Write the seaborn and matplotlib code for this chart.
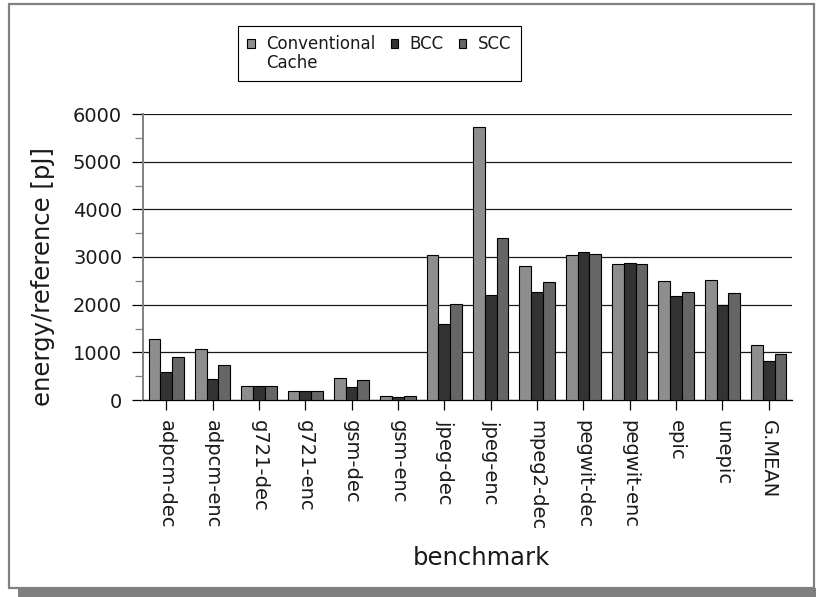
import matplotlib
matplotlib.use("Agg")
import matplotlib.pyplot as plt
import numpy as np
import pandas as pd
import seaborn as sns
from matplotlib.patches import Patch, Rectangle
from matplotlib.ticker import MultipleLocator

# Benchmarks and per-cache energy values [pJ]
benchmarks = ["adpcm-dec", "adpcm-enc", "g721-dec", "g721-enc", "gsm-dec",
              "gsm-enc", "jpeg-dec", "jpeg-enc", "mpeg2-dec", "pegwit-dec",
              "pegwit-enc", "epic", "unepic", "G.MEAN"]
conventional = [1280, 1070, 300, 196, 455, 77, 3035, 5727, 2811, 3049, 2846, 2490, 2524, 1147]
bcc = [580, 434, 300, 196, 273, 63, 1594, 2196, 2259, 3098, 2881, 2182, 1993, 811]
scc = [902, 727, 300, 196, 413, 77, 2014, 3392, 2483, 3070, 2853, 2259, 2245, 972]
series_names = ["Conventional Cache", "BCC", "SCC"]
colors = ["#8e8e8e", "#333333", "#666666"]

df = pd.DataFrame({
    "benchmark": benchmarks * 3,
    "energy": conventional + bcc + scc,
    "cache": [n for n in series_names for _ in benchmarks],
})

sns.set_style("white")
plt.rcParams["font.family"] = ["DejaVu Sans"]

W, H = 816, 597
fig = plt.figure(figsize=(W / 100, H / 100), dpi=100)

# outer frame with a drop shadow along the bottom
fig.patches.append(Rectangle((18 / W, 0), 1 - 18 / W, 9 / H, transform=fig.transFigure,
                             facecolor="#808080", edgecolor="none", zorder=0))
fig.patches.append(Rectangle((9 / W, 1 - 588 / H), (814 - 9) / W, (588 - 4) / H,
                             transform=fig.transFigure, facecolor="none",
                             edgecolor="#808080", linewidth=1.6, zorder=1))

ax_l, ax_r, ax_t, ax_b = 143, 792, 114, 400
ax = fig.add_axes([ax_l / W, 1 - ax_b / H, (ax_r - ax_l) / W, (ax_b - ax_t) / H])
ax.set_facecolor("none")

sns.barplot(data=df, x="benchmark", y="energy", hue="cache", hue_order=series_names,
            palette=colors, saturation=1, width=0.76, edgecolor="black",
            linewidth=0.8, errorbar=None, legend=False, ax=ax, zorder=3)

ax.set_ylim(0, 6000)
ax.set_xlim(-0.5, len(benchmarks) - 0.5)
ax.yaxis.set_major_locator(MultipleLocator(1000))
ax.yaxis.set_minor_locator(MultipleLocator(500))
ax.grid(axis="y", which="major", color="#1a1a1a", linewidth=0.9, zorder=0)
ax.set_axisbelow(True)

for s in ("top", "right"):
    ax.spines[s].set_visible(False)
ax.spines["left"].set_color("#808080")
ax.spines["left"].set_linewidth(1.4)
ax.spines["bottom"].set_color("black")
ax.spines["bottom"].set_linewidth(0.9)

ax.tick_params(axis="y", which="major", direction="out", length=8, width=0.9,
               color="black", pad=7, labelsize=14, labelcolor="#1a1a1a", left=True)
ax.tick_params(axis="y", which="minor", direction="out", length=5.8, width=0.9,
               color="#808080", left=True)
ax.tick_params(axis="x", which="major", direction="out", length=7.2, width=0.9,
               color="black", pad=7, labelsize=14, labelcolor="#1a1a1a", bottom=True)
ax.set_xticks(range(len(benchmarks)))
ax.set_xticklabels(benchmarks, rotation=270, ha="center", va="top")

ax.set_ylabel("energy/reference [pJ]", fontsize=17.5, color="#1a1a1a")
ax.yaxis.set_label_coords((55 - ax_l) / (ax_r - ax_l), (ax_b - 277) / (ax_b - ax_t))
ax.set_xlabel("benchmark", fontsize=17.5, color="#1a1a1a")
ax.xaxis.set_label_coords((481 - ax_l) / (ax_r - ax_l), -(546 - ax_b) / (ax_b - ax_t))

# legend: the first column carries the two-line label "Conventional / Cache"
handles = [
    Patch(facecolor=colors[0], edgecolor="black", linewidth=0.8),
    Patch(facecolor="none", edgecolor="none"),
    Patch(facecolor=colors[1], edgecolor="black", linewidth=0.8),
    Patch(facecolor=colors[2], edgecolor="black", linewidth=0.8),
]
labels = ["Conventional", "Cache", "BCC", "SCC"]
leg = fig.legend(handles, labels, ncol=3, loc="upper left",
                 bbox_to_anchor=(238 / W, 1 - 26 / H), bbox_transform=fig.transFigure,
                 borderaxespad=0, fontsize=12, frameon=True, fancybox=False,
                 edgecolor="black", framealpha=1, handlelength=0.45, handleheight=0.45,
                 handletextpad=0.7, columnspacing=0.9, labelspacing=0.05,
                 borderpad=0.55)
leg.get_frame().set_linewidth(0.8)
for t in leg.get_texts():
    t.set_color("#1a1a1a")

fig.savefig("out.png", dpi=100)
